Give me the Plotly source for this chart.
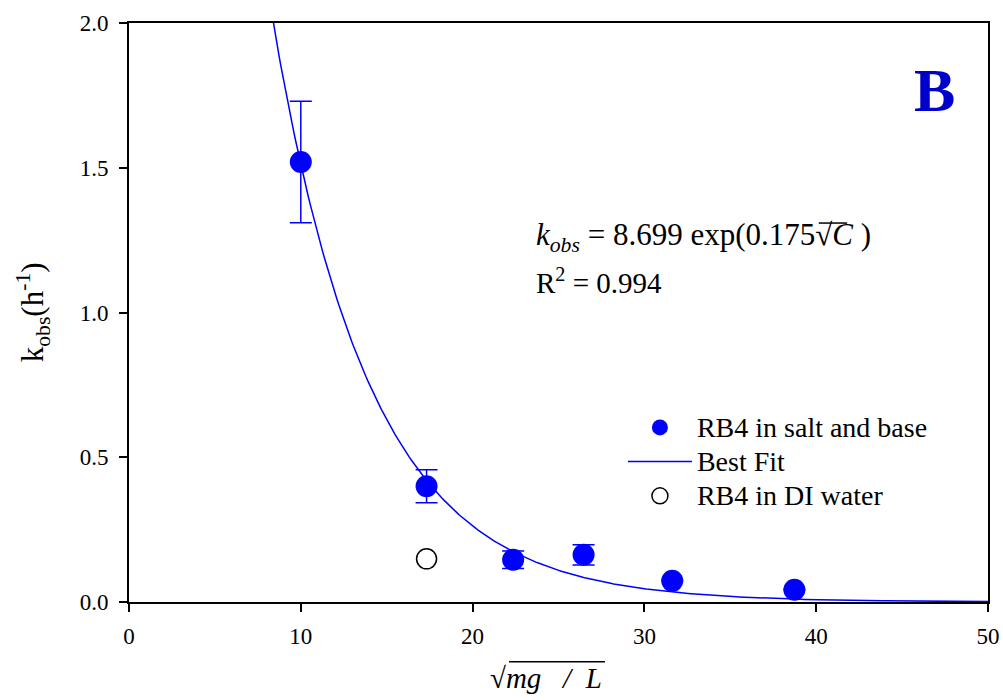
import numpy as np
import plotly.graph_objects as go

# Data
x_salt = [10.0, 17.32, 22.36, 26.46, 31.62, 38.73]
y_salt = [1.52, 0.40, 0.146, 0.163, 0.073, 0.042]
err_salt = [0.21, 0.057, 0.03, 0.035, 0.0, 0.0]

x_di = [17.32]
y_di = [0.149]

# Best-fit parameters (as printed on the chart)
fit_a = 8.699
fit_b = 0.175
fit_x = np.linspace(8.0, 50.0, 400)
fit_y = fit_a * np.exp(-fit_b * fit_x)

x_ticks = [0, 10, 20, 30, 40, 50]
y_ticks = [0.0, 0.5, 1.0, 1.5, 2.0]

names = ["RB4 in salt and base", "Best Fit", "RB4 in DI water"]

FONT = "Liberation Serif, Times New Roman, serif"
BLUE = "#0000FF"


def leg(name):
    return '<span style="font-size:28px">' + name + "</span>"


fig = go.Figure()

fig.add_trace(go.Scatter(
    x=x_salt, y=y_salt, mode="markers", name=leg(names[0]),
    marker=dict(size=22, color=BLUE, line=dict(width=0)),
    error_y=dict(type="data", array=err_salt, visible=True, color=BLUE,
                 thickness=1.5, width=11),
))
fig.add_trace(go.Scatter(
    x=fit_x, y=fit_y, mode="lines", name=leg(names[1]),
    line=dict(color=BLUE, width=1.5),
))
fig.add_trace(go.Scatter(
    x=x_di, y=y_di, mode="markers", name=leg(names[2]),
    marker=dict(size=20, color="white", line=dict(color="black", width=1.5)),
))

axis_common = dict(
    showline=True, linecolor="black", linewidth=2, mirror=True,
    ticks="outside", ticklen=8, tickwidth=1.5, tickcolor="black",
    showgrid=False, zeroline=False, automargin=False,
    tickfont=dict(family=FONT, size=23, color="black"),
)

fig.update_xaxes(range=[0, 50], tickvals=x_ticks, ticklabelstandoff=4,
                 **axis_common)
fig.update_yaxes(range=[0, 2.0], tickvals=y_ticks, tickformat=".1f",
                 ticklabelstandoff=6, **axis_common)

fig.update_layout(
    width=1003, height=700,
    margin=dict(l=129, r=15, t=23, b=98, autoexpand=False),
    paper_bgcolor="white", plot_bgcolor="white",
    font=dict(family=FONT, color="black"),
    showlegend=True,
    legend=dict(x=0.575, y=0.3397, xanchor="left", yanchor="top",
                bgcolor="rgba(0,0,0,0)", borderwidth=0,
                font=dict(family=FONT, size=24, color="black"),
                itemwidth=64, tracegroupgap=0),
)

# Y-axis title
fig.add_annotation(xref="paper", yref="paper", x=-0.112, y=0.5,
                   xanchor="center", yanchor="middle", showarrow=False,
                   textangle=-90,
                   text="k<sub>obs</sub>(h<sup>-1</sup>)",
                   font=dict(family=FONT, size=31, color="black"))

# Equation and R^2
fig.add_annotation(xref="paper", yref="paper", x=0.472, y=0.63,
                   xanchor="left", yanchor="middle", showarrow=False,
                   text="<i>k<sub>obs</sub></i> = 8.699 exp(0.175√<i>C</i>&nbsp;)",
                   font=dict(family=FONT, size=31, color="black"))
fig.add_shape(type="line", xref="paper", yref="paper",
              x0=0.803, x1=0.836, y0=0.6545, y1=0.6545,
              line=dict(color="black", width=1.5))
fig.add_annotation(xref="paper", yref="paper", x=0.472, y=0.555,
                   xanchor="left", yanchor="middle", showarrow=False,
                   text="R<sup>2</sup> = 0.994",
                   font=dict(family=FONT, size=29, color="black"))
# Panel label
fig.add_annotation(xref="paper", yref="paper", x=0.938, y=0.884,
                   xanchor="center", yanchor="middle", showarrow=False,
                   text="<b>B</b>",
                   font=dict(family=FONT, size=62, color="#0000CC"))
# X-axis title
fig.add_annotation(xref="paper", yref="paper", x=0.418, y=-0.132,
                   xanchor="left", yanchor="middle", showarrow=False,
                   text="√<i>mg&nbsp;&nbsp;&nbsp;/&nbsp;&nbsp;L</i>",
                   font=dict(family=FONT, size=29, color="black"))
fig.add_shape(type="line", xref="paper", yref="paper",
              x0=0.4424, x1=0.5541, y0=-0.103, y1=-0.103,
              line=dict(color="black", width=1.5))

fig.write_html("out.html", post_script="document.body.style.margin='0';",
               config={"displayModeBar": False})
